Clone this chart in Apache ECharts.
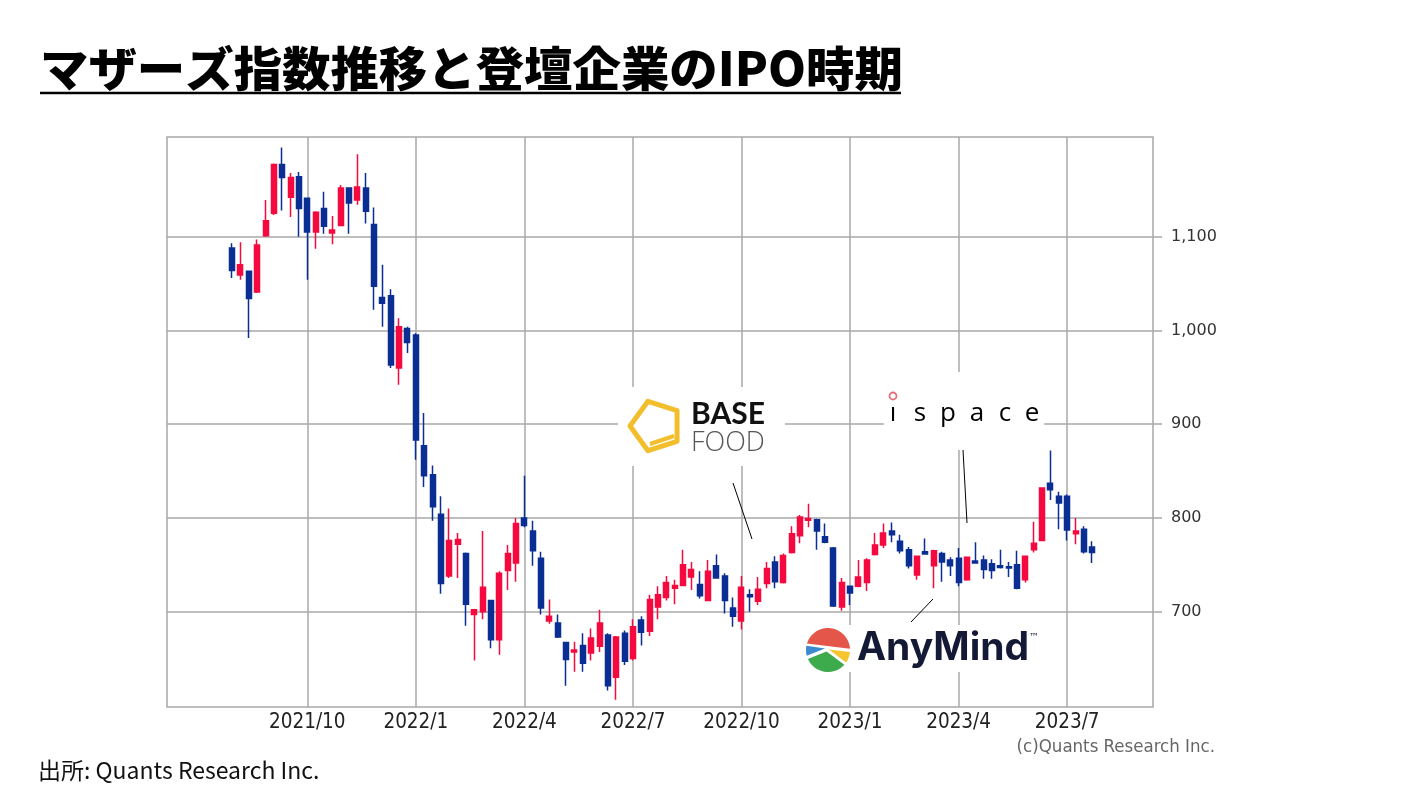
<!DOCTYPE html>
<html><head><meta charset="utf-8">
<script src="https://cdn.jsdelivr.net/npm/echarts@6/dist/echarts.min.js"></script>
<style>html,body{margin:0;padding:0;background:#fff}#c{width:1411px;height:794px}</style>
</head><body><div id="c"></div>
<script>
// ---- data (weekly candles, Mothers index) ----
const firstWeek = '2021-07-26'; // Monday of first weekly candle
const openVals = [1088,1059,1063,1041,1101,1125,1177,1142,1164,1141,
  1105,1130,1104,1112,1152,1139,1152,1113,1035,1037,
  960,1002,995,877,846,804,738,772,762,697,
  700,712,670,744,752,800,786,757,690,688,
  667,657,664,656,663,675,630,677,650,691,
  679,705,715,725,728,737,729,712,749,738,
  704,690,718,711,730,753,731,763,781,797.5,
  798,780,768,705,727,727,731,761,771,786,
  775,766,739,764,749,762,755,757,734,754,
  755,751,749,748,750,734,766,776,837,823,
  823,783,788,769];
const closeVals = [1064,1070,1034,1091,1117,1177,1163,1163,1130,1105,
  1126,1111,1107,1152,1136,1153,1127,1047,1029,963,
  1004,987,883,845,812,730,776,777,708,702,
  726,670,741,762,794,792,765,704,695,673,
  649,659,645,672,688,621,673,647,684,678,
  713,718,731,728,750,745,717,743,736,712,
  695,726,716,724,746,732,760,783,801,799.5,
  786,774,706,731,720,737,755,771,784,782,
  765,749,759,761.5,765,753,749,731,758,752,
  745,744,747,746.5,725,759,773,832,830,816,
  787,786,764,763];
const lowVals = [1056,1054,992,1040,1100,1123,1128,1121,1100,1054,
  1087,1103,1092,1111,1103,1134,1114,1022,1004,960,
  942,976,862,833,797,719,736,736,685,648,
  692,661,654,723,732,790,749,697,687,672,
  621,636,636,648,657,616,606,643,648,664,
  674,692,712,708,727,723,714,711,735,698,
  684,681,700,707,725,725,730,762,773,790,
  766,773,705,701,707,726,722,760,768,774,
  762,746,734,761,725,732,738,727,733,751,
  735,735,746,737,724,731,763,775,819,788,
  776,772,762,752];
const highVals = [1093,1094,1063,1097,1139,1178,1195,1168,1169,1141,
  1127,1148,1122,1155,1152,1188,1168,1131,1070,1044,
  1013,1004,997,912,856,823,810,784,763,702,
  786,712,743,771,800,845,797,764,713,697,
  668,668,677,682,702,677,674,680,692,695,
  718,727,738,734,766,753,743,755,761,741,
  715,738,724,737,753,759,762,791,803,815,
  799,794,769,736,728,755,757,784,794,795,
  782,769,760,778,766,764,758,768,758,774,
  760,756,766,753,765,759,796,832,872,828,
  825,800,791,775];
const tickWeeks = [9,22,35,48,61,74,87,100];
const tickLabels = ['2021/10','2022/1','2022/4','2022/7','2022/10','2023/1','2023/4','2023/7'];
const yTicks = [700,800,900,1000,1100];

// weekly categories (dates) for each candle
const weeks = openVals.map((_, i) => {
  const d = new Date(firstWeek + 'T00:00:00Z');
  d.setUTCDate(d.getUTCDate() + 7 * i);
  return d.toISOString().slice(0, 10);
});
const candleData = weeks.map((w, i) => [i, openVals[i], closeVals[i], lowVals[i], highVals[i]]);

const RED = '#F5093F', BLUE = '#0B2E93', GRID = '#a8a8a8';

// pentagon for the BASE FOOD logo
const pent = [];
for (let k = 0; k < 5; k++) {
  const a = Math.PI + k * 2 * Math.PI / 5;
  pent.push([656 + 26 * Math.cos(a), 426 + 26 * Math.sin(a)]);
}
const ispaceLetters = ['ı','s','p','a','c','e'];
const ispaceX = [893, 920, 948, 977, 1005, 1032];

// AnyMind icon shapes (local coords around the icon centre)
const AM = {cx: 828, cy: 650, r: 22};
function arc(a0, a1, n) {
  const pts = [];
  for (let k = 0; k <= n; k++) {
    const a = (a0 + (a1 - a0) * k / n) * Math.PI / 180;
    pts.push([AM.cx + AM.r * Math.cos(a), AM.cy + AM.r * Math.sin(a)]);
  }
  return pts;
}
const P = (x, y) => [AM.cx + x, AM.cy + y];
const amRed = arc(197, 357, 40);
const amBlue = arc(191, 165, 8).concat([P(-3, -1.5)]);
const amYellow = arc(5, 35, 10).concat([P(1, -0.5)]);
const amGreen = [P(-1.5, 1.6), P(16.35, 14.72)].concat(arc(42, 156, 30));

const chart = echarts.init(document.getElementById('c'), null, {renderer: 'canvas'});
chart.setOption({
  animation: false,
  backgroundColor: '#fff',
  grid: {left: 167, top: 137, width: 986, height: 570, show: true, borderColor: GRID, borderWidth: 1.5, backgroundColor: 'transparent'},
  xAxis: {
    type: 'value', min: -7.8, max: 110.28,
    axisLine: {show: false, onZero: false},
    axisTick: {show: false, customValues: tickWeeks},
    axisLabel: {customValues: tickWeeks, margin: 5, color: '#222', fontSize: 20.5,
      fontFamily: 'DejaVu Sans Condensed, DejaVu Sans',
      formatter: v => { const k = tickWeeks.indexOf(Math.round(v)); return k >= 0 ? tickLabels[k] : ''; }},
    splitLine: {show: true, lineStyle: {color: GRID, width: 1.5}}
  },
  yAxis: {
    type: 'value', position: 'right', min: 598.3, max: 1206.3,
    axisLine: {show: false, onZero: false},
    axisTick: {show: true, inside: false, length: 9, customValues: yTicks, lineStyle: {color: GRID, width: 1.5}},
    axisLabel: {customValues: yTicks, margin: 18, color: '#333', fontSize: 16, fontFamily: 'DejaVu Sans',
      formatter: v => Number(v).toLocaleString('en-US')},
    splitLine: {show: true, lineStyle: {color: GRID, width: 1.5}}
  },
  series: [{
    type: 'candlestick',
    data: candleData,
    encode: {x: 0, y: [1, 2, 3, 4]},
    barWidth: 5.5,
    z: 3,
    itemStyle: {color: RED, color0: BLUE, borderColor: RED, borderColor0: BLUE, borderWidth: 1.5}
  }],
  graphic: [
    {type: 'text', z: 10, x: 40, y: 68, scaleX: 1.03, style: {text: 'マザーズ指数推移と登壇企業のIPO時期', x: 0, y: 0, verticalAlign: 'middle',
      fontSize: 47, fontWeight: 900, fontFamily: '"Noto Sans CJK JP"', fill: '#000'}},
    {type: 'line', z: 10, shape: {x1: 40, y1: 93, x2: 901, y2: 93}, style: {stroke: '#000', lineWidth: 2.5}},
    {type: 'text', z: 10, style: {text: '出所: Quants Research Inc.', x: 38, y: 770, verticalAlign: 'middle',
      fontSize: 23, fontFamily: '"Noto Sans CJK JP"', fill: '#111'}},
    {type: 'text', z: 10, style: {text: '(c)Quants Research Inc.', x: 1215, y: 747, align: 'right', verticalAlign: 'middle',
      fontSize: 18.5, fontFamily: 'DejaVu Sans Condensed, DejaVu Sans', fill: '#666'}},
    // logo backgrounds
    {type: 'rect', z: 4, shape: {x: 618, y: 387, width: 167, height: 79}, style: {fill: '#fff'}},
    {type: 'rect', z: 4, shape: {x: 884, y: 372, width: 160, height: 78}, style: {fill: '#fff'}},
    {type: 'rect', z: 4, shape: {x: 800, y: 625, width: 245, height: 47}, style: {fill: '#fff'}},
    // BASE FOOD logo
    {type: 'polygon', z: 5, shape: {points: pent}, style: {fill: 'none', stroke: '#F2BE2C', lineWidth: 5, lineJoin: 'round'}},
    {type: 'line', z: 5, shape: {x1: 674, y1: 436, x2: 650, y2: 444}, style: {stroke: '#F2BE2C', lineWidth: 4}},
    {type: 'text', z: 5, style: {text: 'BASE', x: 691, y: 414, verticalAlign: 'middle', fontSize: 30, fontWeight: 'bold', fontFamily: 'Lato, "Open Sans"', fill: '#111'}},
    {type: 'text', z: 5, style: {text: 'FOOD', x: 691, y: 443, verticalAlign: 'middle', fontSize: 27, fontWeight: 300, fontFamily: '"Open Sans", Lato', fill: '#555'}},
    // ispace logo
    ...ispaceLetters.map((ch, k) => ({type: 'text', z: 5, style: {text: ch, x: ispaceX[k], y: 414, align: 'center', verticalAlign: 'middle',
      fontSize: 26, fontFamily: '"Open Sans", "DejaVu Sans"', fill: '#000'}})),
    {type: 'circle', z: 5, shape: {cx: 893, cy: 396, r: 3.5}, style: {fill: 'none', stroke: '#E0707A', lineWidth: 1.8}},
    // AnyMind logo
    {type: 'polygon', z: 5, shape: {points: amRed}, style: {fill: '#E5564A'}},
    {type: 'polygon', z: 5, shape: {points: amBlue}, style: {fill: '#3C8BD0'}},
    {type: 'polygon', z: 5, shape: {points: amYellow}, style: {fill: '#F5C530'}},
    {type: 'polygon', z: 5, shape: {points: amGreen}, style: {fill: '#3DAA4C'}},
    {type: 'text', z: 5, style: {text: 'AnyMind', x: 857, y: 648, verticalAlign: 'middle', fontSize: 39, fontWeight: 'bold', fontFamily: 'Inter, "Open Sans"', fill: '#141A35'}},
    {type: 'text', z: 5, style: {text: '™', x: 1029, y: 637, verticalAlign: 'middle', fontSize: 10, fontFamily: '"DejaVu Sans"', fill: '#141A35'}},
    // pointer lines
    {type: 'line', z: 6, shape: {x1: 733, y1: 483, x2: 752, y2: 539}, style: {stroke: '#000', lineWidth: 1}},
    {type: 'line', z: 6, shape: {x1: 963, y1: 450, x2: 967, y2: 523}, style: {stroke: '#000', lineWidth: 1}},
    {type: 'line', z: 6, shape: {x1: 933, y1: 599, x2: 911, y2: 622}, style: {stroke: '#000', lineWidth: 1}}
  ]
});
</script></body></html>
